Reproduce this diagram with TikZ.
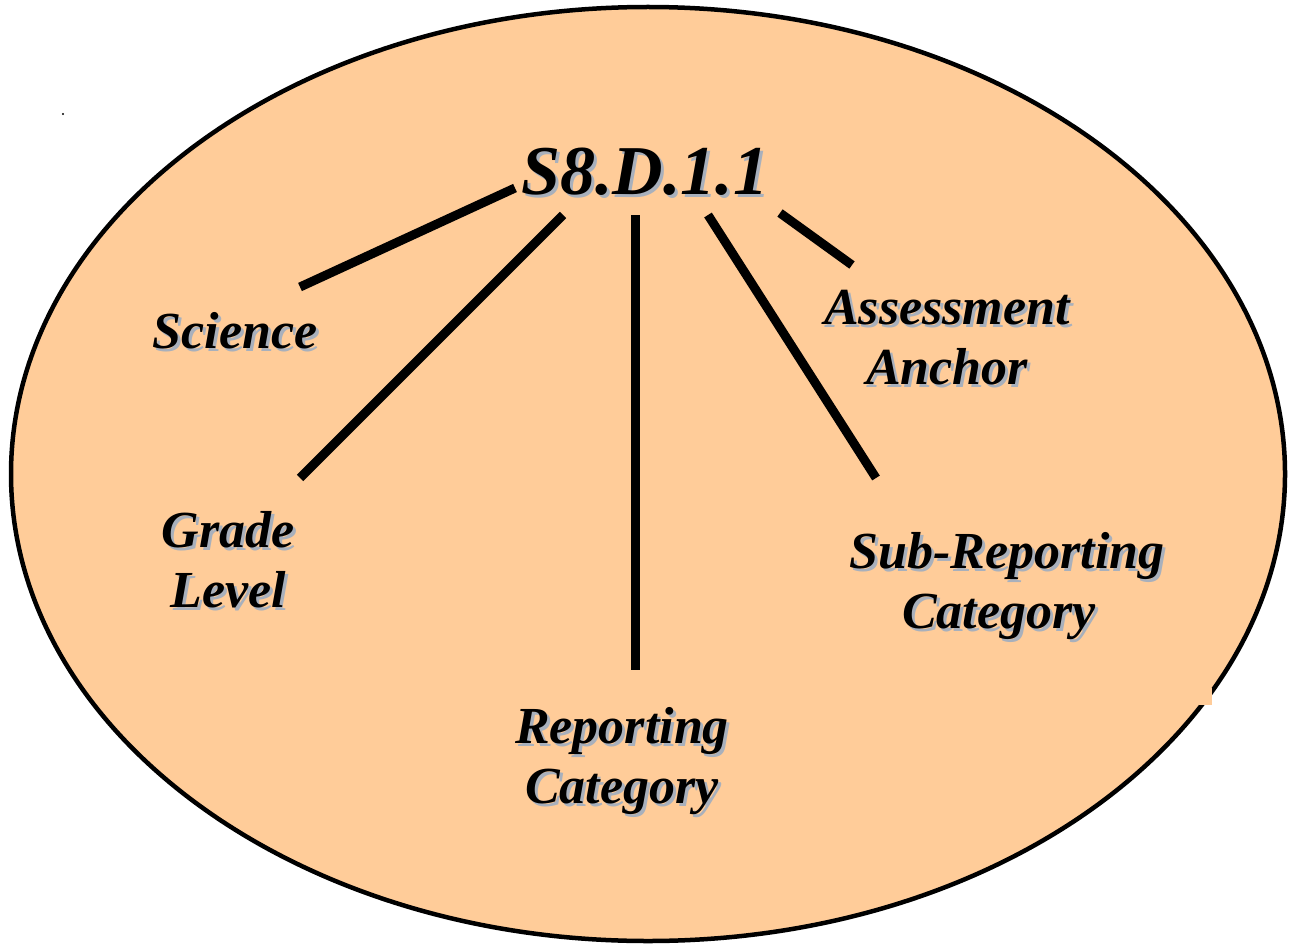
\documentclass[tikz,border=0pt]{standalone}
\usepackage{fontspec}
\setmainfont{Liberation Serif}
\begin{document}
\definecolor{peach}{RGB}{255,204,153}
\definecolor{shade}{RGB}{168,176,188}
\begin{tikzpicture}[x=1pt,y=-1pt,
  lbl/.style={align=center,inner sep=0pt,font=\fontsize{52}{60}\selectfont\bfseries\itshape},
  ttl/.style={inner sep=0pt,font=\fontsize{70}{80}\selectfont\bfseries\itshape},
  shd/.style={text=shade},
  bar/.style={line width=9pt,line cap=butt}]
\useasboundingbox (0,0) rectangle (1289,944);
% oval background
\draw[fill=peach,line width=4.5pt] (648,474) ellipse [x radius=637pt, y radius=467pt];
\fill[peach] (1199,688) rectangle (1212,705);
\fill[black] (63,114) circle (1.2pt);
% code label and its parts (gray shadow first)
\node[ttl,shd] at (648,175) {S8.D.1.1};
\node[ttl] (code) at (645,172) {S8.D.1.1};
\node[lbl,shd] at (238,334) {Science};
\node[lbl] (sci) at (235,331) {Science};
\node[lbl,shd] at (231,563) {Grade\\Level};
\node[lbl] (grade) at (228,560) {Grade\\Level};
\node[lbl,shd] at (625,764) {Reporting\\Category};
\node[lbl] (rep) at (622,761) {Reporting\\Category};
\node[lbl,shd] at (1010,589) {Sub-Reporting\\\hspace*{-16pt}Category};
\node[lbl] (sub) at (1007,586) {Sub-Reporting\\\hspace*{-16pt}Category};
\node[lbl,shd] at (950,341) {Assessment\\Anchor};
\node[lbl] (aa) at (947,338) {Assessment\\Anchor};
% connector end points
\coordinate (sciA) at (515,188);  \coordinate (sciB) at (300,287);
\coordinate (grA) at (563,215);   \coordinate (grB) at (300,478);
\coordinate (repA) at (635,215);  \coordinate (repB) at (635,670);
\coordinate (subA) at (708,215);  \coordinate (subB) at (876,478);
\coordinate (aaA) at (780,213);   \coordinate (aaB) at (852,265);
\draw[bar] (sciA) -- (sciB);
\draw[bar] (grA) -- (grB);
\draw[bar] (repA) -- (repB);
\draw[bar] (subA) -- (subB);
\draw[bar] (aaA) -- (aaB);
\end{tikzpicture}
\end{document}
